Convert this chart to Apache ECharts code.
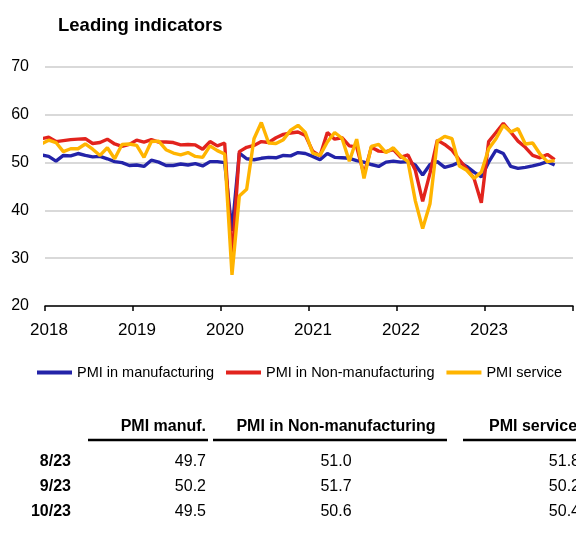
<!DOCTYPE html>
<html>
<head>
<meta charset="utf-8">
<script src="https://cdn.jsdelivr.net/npm/echarts@6/dist/echarts.min.js"></script>
<style>
html,body{margin:0;padding:0;background:#fff;}
#chart{width:576px;height:534px;}
</style>
</head>
<body>
<div id="chart"></div>
<script>
// ---- data ----
const firstMonth = '2017-12';
const seriesNames = ['PMI in manufacturing', 'PMI in Non-manufacturing', 'PMI service'];
// Dec 2017 .. Oct 2023
const pmiManufacturing = [51.6,
  51.3, 50.3, 51.5, 51.4, 51.9, 51.5, 51.2, 51.3, 50.8, 50.2, 50.0, 49.4,
  49.5, 49.2, 50.5, 50.1, 49.4, 49.4, 49.7, 49.5, 49.8, 49.3, 50.2, 50.2,
  50.0, 35.7, 52.0, 50.8, 50.6, 50.9, 51.1, 51.0, 51.5, 51.4, 52.1, 51.9,
  51.3, 50.6, 51.9, 51.1, 51.0, 50.9, 50.4, 50.1, 49.6, 49.2, 50.1, 50.3,
  50.1, 50.2, 49.5, 47.4, 49.6, 50.2, 49.0, 49.4, 50.1, 49.2, 48.0, 47.0,
  50.1, 52.6, 51.9, 49.2, 48.8, 49.0, 49.3, 49.7, 50.2, 49.5];
const pmiNonManufacturing = [55.0,
  55.3, 54.4, 54.6, 54.8, 54.9, 55.0, 54.0, 54.2, 54.9, 53.9, 53.4, 53.8,
  54.7, 54.3, 54.8, 54.3, 54.3, 54.2, 53.7, 53.8, 53.7, 52.8, 54.4, 53.5,
  54.1, 29.6, 52.3, 53.2, 53.6, 54.4, 54.2, 55.2, 55.9, 56.2, 56.4, 55.7,
  52.4, 51.4, 56.3, 54.9, 55.2, 53.5, 53.3, 47.5, 53.2, 52.4, 52.3, 52.7,
  51.1, 51.6, 48.4, 41.9, 47.8, 54.7, 53.8, 52.6, 50.6, 48.7, 46.7, 41.6,
  54.4, 56.3, 58.2, 56.4, 54.5, 53.2, 51.5, 51.0, 51.7, 50.6];
const pmiService = [53.9,
  54.7, 54.2, 52.3, 52.9, 52.9, 53.9, 52.8, 51.5, 53.1, 50.8, 53.8, 53.9,
  53.6, 51.1, 54.4, 54.5, 52.7, 52.0, 51.6, 52.1, 51.3, 51.1, 53.5, 52.5,
  51.8, 26.5, 43.0, 44.4, 55.0, 58.4, 54.1, 54.0, 54.8, 56.8, 57.8, 56.3,
  52.0, 51.5, 54.3, 56.3, 55.1, 50.3, 54.9, 46.7, 53.4, 53.8, 52.1, 53.1,
  51.4, 50.2, 42.0, 36.2, 41.4, 54.5, 55.5, 55.0, 49.3, 48.4, 46.7, 48.0,
  52.9, 55.0, 57.8, 56.4, 57.1, 53.9, 54.1, 51.8, 50.2, 50.4];
const yearLabels = ['2018', '2019', '2020', '2021', '2022', '2023'];
const yTicks = [20, 30, 40, 50, 60, 70];

// table
const tableHeaders = ['PMI manuf.', 'PMI in Non-manufacturing', 'PMI service'];
const tableRows = ['8/23', '9/23', '10/23'];
const tableManuf = ['49.7', '50.2', '49.5'];
const tableNonManuf = ['51.0', '51.7', '50.6'];
const tableService = ['51.8', '50.2', '50.4'];

// ---- build ----
const FONT = '"Liberation Sans", Arial, Helvetica, sans-serif';
const startY = parseInt(firstMonth.slice(0, 4)), startM = parseInt(firstMonth.slice(5, 7));
const baseYear = parseInt(yearLabels[0]);
function monthPos(i) {
  const total = (startY - baseYear) * 12 + (startM - 1) + i;
  return total + 0.5; // mid-month
}
function toPairs(arr) { return arr.map((v, i) => [monthPos(i), v]); }

const colors = ['#2323a8', '#e2231d', '#ffb400'];

const chart = echarts.init(document.getElementById('chart'), null, { renderer: 'canvas' });

const graphics = [];
const headY = 427, lineY = 440;
const rowYs = [462, 487, 512];
graphics.push({ type: 'text', style: { text: tableHeaders[0], x: 206, y: headY, font: 'bold 16px ' + FONT, textAlign: 'right', textVerticalAlign: 'middle', fill: '#000' } });
graphics.push({ type: 'text', style: { text: tableHeaders[1], x: 336, y: headY, font: 'bold 16px ' + FONT, textAlign: 'center', textVerticalAlign: 'middle', fill: '#000' } });
graphics.push({ type: 'text', style: { text: tableHeaders[2], x: 489, y: headY, font: 'bold 16px ' + FONT, textAlign: 'left', textVerticalAlign: 'middle', fill: '#000' } });
[[88, 208], [213, 447], [463, 580]].forEach(s => {
  graphics.push({ type: 'line', shape: { x1: s[0], y1: lineY, x2: s[1], y2: lineY }, style: { stroke: '#000', lineWidth: 2.5 } });
});
tableRows.forEach((r, i) => {
  const y = rowYs[i];
  graphics.push({ type: 'text', style: { text: r, x: 71, y: y, font: 'bold 16px ' + FONT, textAlign: 'right', textVerticalAlign: 'middle', fill: '#000' } });
  graphics.push({ type: 'text', style: { text: tableManuf[i], x: 206, y: y, font: '16px ' + FONT, textAlign: 'right', textVerticalAlign: 'middle', fill: '#000' } });
  graphics.push({ type: 'text', style: { text: tableNonManuf[i], x: 336, y: y, font: '16px ' + FONT, textAlign: 'center', textVerticalAlign: 'middle', fill: '#000' } });
  graphics.push({ type: 'text', style: { text: tableService[i], x: 580, y: y, font: '16px ' + FONT, textAlign: 'right', textVerticalAlign: 'middle', fill: '#000' } });
});

const option = {
  backgroundColor: '#fff',
  animation: false,
  title: {
    text: 'Leading indicators',
    left: 58, top: 16,
    padding: 0,
    textStyle: { fontFamily: FONT, fontSize: 18.5, fontWeight: 'bold', color: '#000' }
  },
  legend: {
    data: seriesNames,
    left: 37, top: 365,
    padding: 0,
    icon: 'rect',
    itemWidth: 35, itemHeight: 4, itemGap: 12,
    textStyle: { fontFamily: FONT, fontSize: 14.5, color: '#000' }
  },
  grid: { left: 45, right: -4, top: 67, bottom: 228, containLabel: false },
  xAxis: {
    type: 'value',
    min: 0, max: 72, interval: 12,
    axisLine: { show: true, lineStyle: { color: '#000', width: 1.5 } },
    axisTick: { show: true, length: 5, lineStyle: { color: '#000', width: 1.5 } },
    splitLine: { show: false },
    axisLabel: {
      fontFamily: FONT, fontSize: 17, color: '#000', margin: 16,
      padding: [0, 0, 0, 8],
      formatter: v => { const k = Math.round(v / 12); return k < yearLabels.length ? yearLabels[k] : ''; }
    }
  },
  yAxis: {
    type: 'value',
    min: yTicks[0], max: yTicks[yTicks.length - 1], interval: 10,
    axisLine: { show: false },
    axisTick: { show: false },
    splitLine: { show: true, lineStyle: { color: '#d9d9d9', width: 2 } },
    axisLabel: { fontFamily: FONT, fontSize: 16, color: '#000', margin: 16 }
  },
  series: [
    { name: seriesNames[0], type: 'line', data: toPairs(pmiManufacturing), showSymbol: false, symbol: 'none', clip: true, z: 2,
      lineStyle: { color: colors[0], width: 3.4 }, itemStyle: { color: colors[0] } },
    { name: seriesNames[1], type: 'line', data: toPairs(pmiNonManufacturing), showSymbol: false, symbol: 'none', clip: true, z: 3,
      lineStyle: { color: colors[1], width: 3.4 }, itemStyle: { color: colors[1] } },
    { name: seriesNames[2], type: 'line', data: toPairs(pmiService), showSymbol: false, symbol: 'none', clip: true, z: 4,
      lineStyle: { color: colors[2], width: 3.4 }, itemStyle: { color: colors[2] } }
  ],
  graphic: graphics
};
chart.setOption(option);
</script>
</body>
</html>
